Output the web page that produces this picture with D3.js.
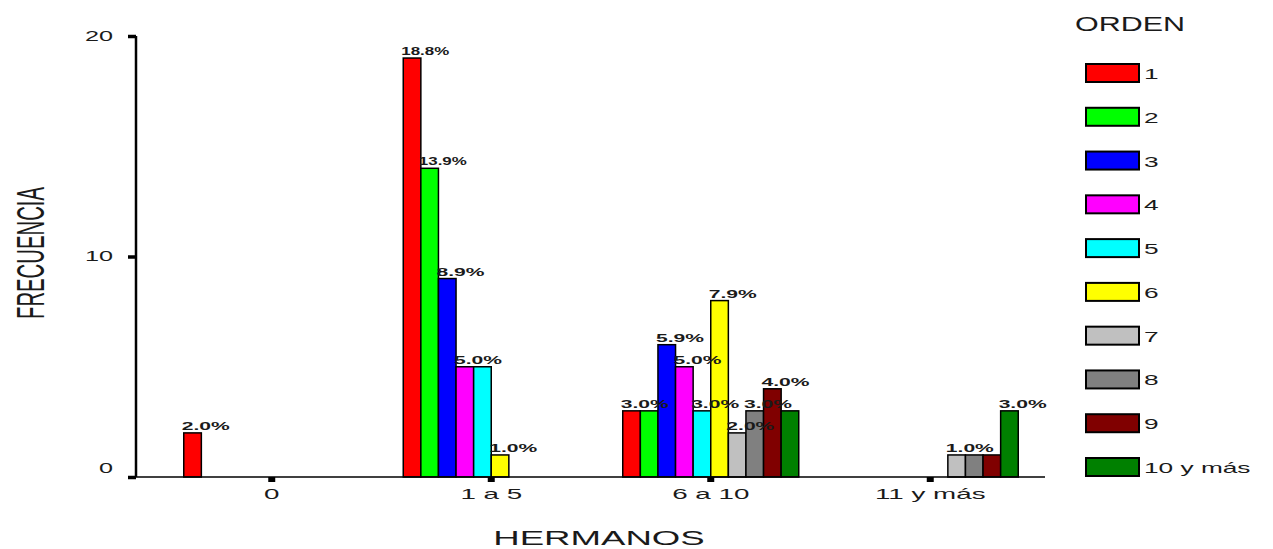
<!DOCTYPE html>
<html><head><meta charset="utf-8">
<script src="https://cdn.jsdelivr.net/npm/d3@7"></script>
<style>
html,body{margin:0;padding:0;background:#fff;}
text{font-family:"Liberation Sans",Arial,sans-serif;fill:#1a1a1a;}
</style></head>
<body><svg id="c" width="1273" height="549"></svg>
<script>
const categories = ["0", "1 a 5", "6 a 10", "11 y más"];
const seriesNames = ["1", "2", "3", "4", "5", "6", "7", "8", "9", "10 y más"];
const seriesColors = ["#ff0000", "#00ff00", "#0000ff", "#ff00ff", "#00ffff", "#ffff00", "#c0c0c0", "#808080", "#800000", "#008000"];
const s1 = [2, 19, 3, 0];
const s2 = [0, 14, 3, 0];
const s3 = [0, 9, 6, 0];
const s4 = [0, 5, 5, 0];
const s5 = [0, 5, 3, 0];
const s6 = [0, 1, 8, 0];
const s7 = [0, 0, 2, 1];
const s8 = [0, 0, 3, 1];
const s9 = [0, 0, 4, 1];
const s10 = [0, 0, 3, 3];
const seriesValues = [s1, s2, s3, s4, s5, s6, s7, s8, s9, s10];
const yTicks = [0, 10, 20];
const yTitle = "FRECUENCIA";
const xTitle = "HERMANOS";
const legendTitle = "ORDEN";

const total = d3.sum(seriesValues.flat());
const svg = d3.select("#c");

function stretch(sel, f) {
  sel.each(function () {
    const w = this.getComputedTextLength();
    d3.select(this).attr("textLength", w * f).attr("lengthAdjust", "spacingAndGlyphs");
  });
}

const x = d3.scaleBand().domain(categories).range([162, 1040]);
const groupW = 176;
const xs = d3.scaleBand().domain(seriesNames).range([0, groupW]);
const y = d3.scaleLinear().domain([0, 20]).range([477, 36]);

// bars
const data = [];
seriesValues.forEach((vals, si) => {
  vals.forEach((v, ci) => {
    if (v > 0) data.push({ s: seriesNames[si], c: categories[ci], v, color: seriesColors[si] });
  });
});
const off = (x.bandwidth() - groupW) / 2;
svg.append("g").selectAll("rect").data(data).join("rect")
  .attr("x", d => x(d.c) + off + xs(d.s))
  .attr("y", d => y(d.v))
  .attr("width", xs.bandwidth())
  .attr("height", d => y(0) - y(d.v))
  .attr("fill", d => d.color)
  .attr("stroke", "#000").attr("stroke-width", 1.5);

// labels (identical labels that would overlap within a group are shown once)
const lblW = 48;
const shown = [];
const labelData = data.filter(d => {
  d.txt = (d.v / total * 100).toFixed(1) + "%";
  d.lx = x(d.c) + off + xs(d.s) - 2;
  const clash = shown.some(p => p.c === d.c && p.txt === d.txt && Math.abs(p.lx - d.lx) < lblW);
  if (!clash) shown.push(d);
  return !clash;
});
svg.append("g").selectAll("text").data(labelData).join("text")
  .attr("x", d => d.lx)
  .attr("y", d => y(d.v) - 3)
  .attr("font-size", 11).attr("font-weight", "bold").attr("fill", "#111")
  .text(d => d.txt)
  .attr("textLength", lblW).attr("lengthAdjust", "spacingAndGlyphs");

// y axis
const gy = svg.append("g").attr("transform", "translate(136,0)")
  .call(d3.axisLeft(y).tickValues(yTicks).tickSize(8).tickPadding(15).tickFormat(d3.format("d")));
gy.select(".domain").attr("stroke", "#000").attr("stroke-width", 2.5).attr("d", "M0,36V477");
gy.selectAll(".tick line").attr("stroke", "#000").attr("stroke-width", 3.5);
gy.selectAll(".tick text").attr("font-size", 14).attr("font-family", "Liberation Sans, Arial")
  .attr("fill", "#222").attr("dy", (d) => d === 0 ? "-0.35em" : "0.32em");
stretch(gy.selectAll(".tick text"), 1.8);

// x axis
const gx = svg.append("g").attr("transform", "translate(0,477)")
  .call(d3.axisBottom(x).tickSize(5).tickPadding(5));
gx.select(".domain").attr("stroke", "#000").attr("stroke-width", 1.5).attr("d", "M136,0H1045");
gx.selectAll(".tick line").attr("stroke", "#000").attr("stroke-width", 7);
gx.selectAll(".tick text").attr("font-size", 15).attr("font-family", "Liberation Sans, Arial")
  .attr("fill", "#222").attr("dy", "0.78em");
stretch(gx.selectAll(".tick text"), 1.85);

// axis titles
svg.append("text").attr("transform", "translate(44,253) rotate(-90)")
  .attr("text-anchor", "middle").attr("font-size", 38).attr("fill", "#222").text(yTitle)
  .attr("textLength", 132).attr("lengthAdjust", "spacingAndGlyphs");
const xt = svg.append("text").attr("x", 599).attr("y", 545).attr("text-anchor", "middle")
  .attr("font-size", 20).attr("fill", "#222").text(xTitle);
stretch(xt, 1.83);

// legend
const lt = svg.append("text").attr("x", 1075).attr("y", 31).attr("font-size", 21).attr("fill", "#222").text(legendTitle);
stretch(lt, 1.45);
const ly = d3.scalePoint().domain(seriesNames).range([73, 467]);
const lg = svg.append("g").selectAll("g").data(seriesNames).join("g")
  .attr("transform", d => `translate(1086,${ly(d)})`);
lg.append("rect").attr("x", 0).attr("y", -9).attr("width", 53).attr("height", 18)
  .attr("fill", (d, i) => seriesColors[i]).attr("stroke", "#000").attr("stroke-width", 2);
const ltx = lg.append("text").attr("x", 58).attr("y", 6).attr("font-size", 15).attr("fill", "#222").text(d => d);
stretch(ltx, 1.75);
</script></body></html>
